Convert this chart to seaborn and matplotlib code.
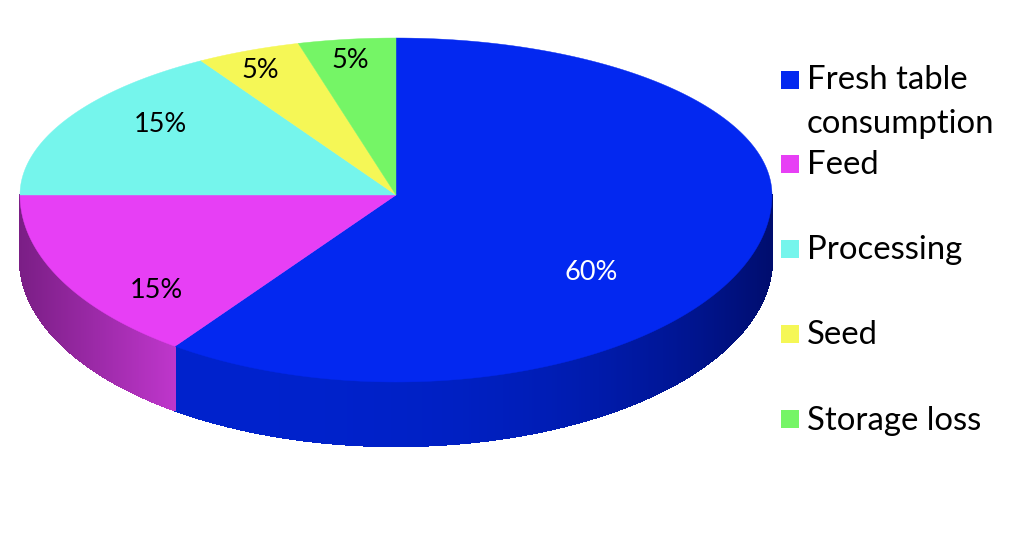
import numpy as np
import matplotlib
matplotlib.use('Agg')
import matplotlib.pyplot as plt
from matplotlib.colors import to_rgb
from matplotlib.collections import PolyCollection
import seaborn as sns

# slice order is clockwise from twelve o'clock
categories = ["Fresh table\nconsumption", "Feed", "Processing", "Seed", "Storage loss"]
shares = [60, 15, 15, 5, 5]
share_labels = ["60%", "15%", "15%", "5%", "5%"]

top_colors = ["#0328F0", "#E73FF5", "#75F5EC", "#F5F756", "#75F566"]
label_colors = ["white", "black", "black", "black", "black"]
# side wall colours: left end and right end of each visible wall
side_colors = {0: ("#0022CC", "#000D6E"), 1: ("#7A1E85", "#BE36CB")}

# pie geometry in pixels
cx, cy = 396, 195
rx = 376
ry_back, ry_front = 157, 187
depth = 64

# label and legend placement in pixels
label_pos = [(591, 272), (156, 290), (160, 124), (260, 70), (350, 61)]
legend_y = [80, 164, 249, 334, 419]
legend_text_y = [102, 165, 250, 335, 421]


def rim(deg):
    # the back half looks squeezed towards the top in the original
    deg = np.asarray(deg, dtype=float) % 360
    warped = np.where((deg > 90) & (deg < 180), deg - 5 * np.sin(np.radians(2 * (deg - 90))), deg)
    t = np.radians(warped)
    s = np.sin(t)
    x = cx + rx * np.cos(t)
    y = cy - np.where(s >= 0, ry_back, ry_front) * s
    return x, y


sns.set_theme(style="white")
plt.rcParams['font.family'] = ['Lato', 'DejaVu Sans']

fig = plt.figure(figsize=(10.24, 5.4), dpi=100)
ax = fig.add_axes([0, 0, 1, 1])
ax.set_xlim(0, 1024)
ax.set_ylim(540, 0)
ax.axis("off")

edges = 90 - np.cumsum([0] + shares) * 3.6

# side walls, only the front half of the rim shows
for i in side_colors:
    start = max(edges[i + 1], -180)
    end = min(edges[i], 0)
    ang = np.linspace(start, end, 400)
    x, y = rim(ang)
    left = np.array(to_rgb(side_colors[i][0]))
    right = np.array(to_rgb(side_colors[i][1]))
    polys = []
    cols = []
    for j in range(len(ang) - 1):
        polys.append([(x[j], y[j]), (x[j + 1], y[j + 1]), (x[j + 1], y[j + 1] + depth), (x[j], y[j] + depth)])
        f = (x[j] - x.min()) / (x.max() - x.min())
        # blue stays bright for most of the wall, then drops quickly
        if i == 0:
            f = f ** 3
        cols.append(left + (right - left) * f)
    ax.add_collection(PolyCollection(polys, facecolors=cols, edgecolors=cols, linewidths=1.0, antialiaseds=False))

# top face
for i in range(len(shares)):
    ang = np.linspace(edges[i], edges[i + 1], 200)
    x, y = rim(ang)
    ax.fill(np.r_[cx, x], np.r_[cy, y], color=top_colors[i], linewidth=0.3)
    ax.text(label_pos[i][0], label_pos[i][1], share_labels[i], color=label_colors[i],
            fontsize=19.5, ha="center", va="center")

# legend
for i in range(len(categories)):
    ax.scatter([790], [legend_y[i]], marker="s", s=168, color=top_colors[i], linewidths=0)
    ax.text(807, legend_text_y[i], categories[i], fontsize=23.7, color="black",
            ha="left", va="center", linespacing=1.58)

fig.savefig("out.png", dpi=100, facecolor="white")
